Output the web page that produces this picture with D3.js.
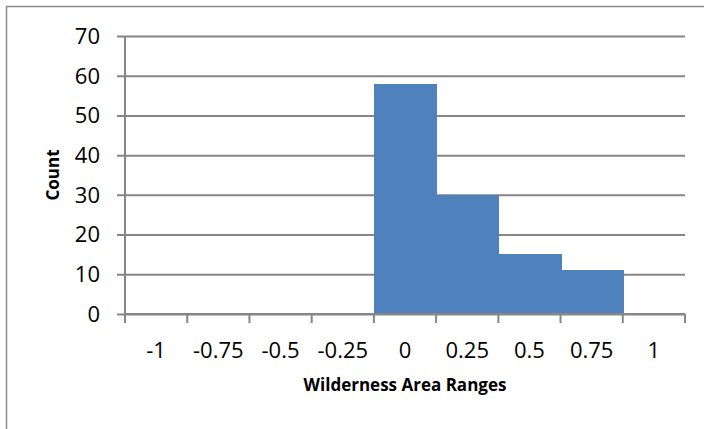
<!DOCTYPE html>
<html>
<head>
<meta charset="utf-8">
<script src="https://cdn.jsdelivr.net/npm/d3@7"></script>
<style>
  html, body { margin: 0; padding: 0; background: #fff; }
  svg { display: block; }
</style>
</head>
<body>
<svg id="chart" width="704" height="429"></svg>
<script>
const categories = ["-1", "-0.75", "-0.5", "-0.25", "0", "0.25", "0.5", "0.75", "1"];
const counts = [0, 0, 0, 0, 58, 30, 15, 11, 0];
const yTicks = [0, 10, 20, 30, 40, 50, 60, 70];
const xTitle = "Wilderness Area Ranges";
const yTitle = "Count";

const svg = d3.select("#chart");
const gridColor = "#868686";
const barColor = "#4F81BD";
const fontFam = "'Open Sans', 'Liberation Sans', sans-serif";

// outer border
svg.append("rect")
  .attr("x", 6.5).attr("y", 6.5)
  .attr("width", 710).attr("height", 440)
  .attr("fill", "none").attr("stroke", "#8c8c8c").attr("stroke-width", 1.5);

const x = d3.scaleBand().domain(categories).range([125, 685]).padding(0);
const y = d3.scaleLinear().domain([0, 70]).range([314, 36]);

// gridlines
const yAxis = d3.axisLeft(y).tickValues(yTicks).tickSize(-(685 - 117)).tickFormat(d3.format("d"));
const gy = svg.append("g").attr("transform", "translate(117,0)").call(yAxis);
gy.select(".domain").remove();
gy.selectAll(".tick line").attr("stroke", gridColor).attr("stroke-width", 2).attr("x1", 0).attr("x2", 685 - 117);
gy.selectAll(".tick text").remove();

// bars
svg.append("g").attr("shape-rendering", "crispEdges").selectAll("rect")
  .data(categories.map((c, i) => ({ c, v: counts[i] })).filter(d => d.v > 0))
  .join("rect")
  .attr("x", d => Math.round(x(d.c)))
  .attr("y", d => y(d.v))
  .attr("width", d => Math.round(x(d.c) + x.bandwidth()) - Math.round(x(d.c)) + 1)
  .attr("height", d => y(0) - y(d.v))
  .attr("fill", barColor);

// y axis line
svg.append("line")
  .attr("x1", 125).attr("x2", 125).attr("y1", 36).attr("y2", 314)
  .attr("stroke", gridColor).attr("stroke-width", 2);

// y tick labels
svg.append("g").selectAll("text")
  .data(yTicks).join("text")
  .attr("x", 100).attr("y", d => y(d))
  .attr("dy", "0.36em")
  .attr("text-anchor", "end")
  .attr("font-family", fontFam).attr("font-size", 22).attr("fill", "#000")
  .text(d => d);

// x axis with boundary ticks
const boundaries = categories.map(c => x(c)).concat([685]);
svg.append("line")
  .attr("x1", 125).attr("x2", 685).attr("y1", 314).attr("y2", 314)
  .attr("stroke", gridColor).attr("stroke-width", 2);
svg.append("g").selectAll("line")
  .data(boundaries).join("line")
  .attr("x1", d => d).attr("x2", d => d)
  .attr("y1", 314).attr("y2", 323)
  .attr("stroke", gridColor).attr("stroke-width", 2);

// x tick labels
svg.append("g").selectAll("text")
  .data(categories).join("text")
  .attr("x", d => x(d) + x.bandwidth() / 2)
  .attr("y", 358)
  .attr("text-anchor", "middle")
  .attr("font-family", fontFam).attr("font-size", 22).attr("fill", "#000")
  .text(d => d);

// axis titles
svg.append("text")
  .attr("x", 405).attr("y", 391)
  .attr("text-anchor", "middle")
  .attr("font-family", fontFam).attr("font-size", 17).attr("font-weight", "bold")
  .text(xTitle);

svg.append("text")
  .attr("transform", "translate(59,175) rotate(-90)")
  .attr("text-anchor", "middle")
  .attr("font-family", fontFam).attr("font-size", 17).attr("font-weight", "bold")
  .text(yTitle);
</script>
</body>
</html>
